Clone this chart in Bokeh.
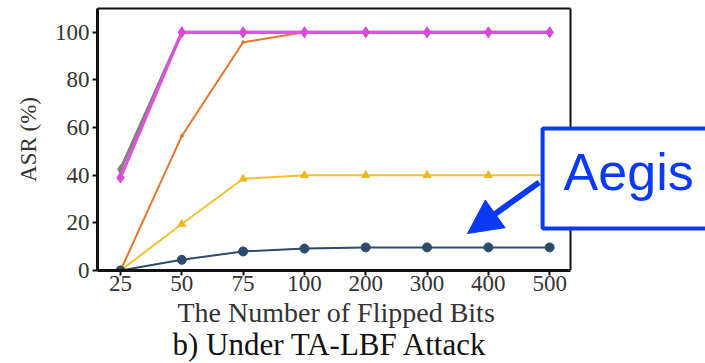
from bokeh.plotting import figure
from bokeh.models import (Range1d, FixedTicker, Label, Arrow, NormalHead, LinearAxis,
                          Span, Title)
from bokeh.embed import file_html
from bokeh.resources import INLINE

# ---- data ----
bits = ["25", "50", "75", "100", "200", "300", "400", "500"]
gray_asr = [42.5, 100, 100, 100, 100, 100, 100, 100]
orange_asr = [0, 56.5, 95.8, 100, 100, 100, 100, 100]
magenta_asr = [39, 100, 100, 100, 100, 100, 100, 100]
yellow_asr = [0, 19.5, 38.5, 40, 40, 40, 40, 40]
blue_asr = [0, 4.5, 8.0, 9.2, 9.7, 9.7, 9.7, 9.7]
yticks = [0, 20, 40, 60, 80, 100]

xs = list(range(len(bits)))

SERIF = "Liberation Serif"
BLUE = "#0a3af5"
INK = "#111111"

# visible axes box spans x in [X0, X1]; the frame extends to the canvas edge so the
# call-out box on the right can be drawn
X0, X1 = -0.375, 7.34
FRAME_L, BOX_R, CANVAS_W = 97, 570, 705
x_end = X0 + (X1 - X0) * (CANVAS_W - FRAME_L) / (BOX_R - FRAME_L)

p = figure(width=705, height=363, output_backend="svg", toolbar_location=None,
           x_range=Range1d(X0, x_end), y_range=Range1d(0, 110),
           min_border_left=FRAME_L, min_border_right=0, min_border_top=8,
           min_border_bottom=93)

p.background_fill_color = "white"
p.border_fill_color = "white"
p.outline_line_color = None
p.grid.visible = False

# series
p.line(xs, gray_asr, line_color="#7f7f7f", line_width=3)
p.scatter(xs, gray_asr, marker="diamond", size=9, color="#7f7f7f")

p.line(xs, orange_asr, line_color="#e8742c", line_width=2)
p.scatter(xs, orange_asr, marker="circle", size=3, color="#e8742c")

p.line(xs, magenta_asr, line_color="#e050e0", line_width=3)
p.scatter(xs, magenta_asr, marker="diamond", size=11, color="#d94ad9")

p.line(xs, yellow_asr, line_color="#f4c030", line_width=2)
p.scatter(xs, yellow_asr, marker="triangle", size=8, color="#f0b820")

p.line(xs, blue_asr, line_color="#2c4a6c", line_width=2)
p.scatter(xs, blue_asr, marker="circle", size=9, color="#2c4a6c")

# axes
xa = p.xaxis[0]
xa.bounds = (X0, X1)
xa.ticker = FixedTicker(ticks=xs)
xa.major_label_overrides = {i: b for i, b in enumerate(bits)}
xa.minor_tick_line_color = None
xa.major_tick_in = 0
xa.major_tick_out = 5
xa.major_tick_line_width = 2
xa.axis_line_width = 3
xa.axis_line_color = INK
xa.major_tick_line_color = INK
xa.major_label_text_font = SERIF
xa.major_label_text_font_size = "23px"
xa.major_label_text_color = "#333333"
xa.major_label_standoff = 0

ya = p.yaxis[0]
ya.ticker = FixedTicker(ticks=yticks)
ya.minor_tick_line_color = None
ya.major_tick_in = 0
ya.major_tick_out = 5
ya.major_tick_line_width = 2
ya.axis_line_width = 3
ya.axis_line_color = INK
ya.major_tick_line_color = INK
ya.major_label_text_font = SERIF
ya.major_label_text_font_size = "23px"
ya.major_label_text_color = "#333333"
ya.major_label_standoff = 3
ya.axis_label = "ASR (%)"
ya.axis_label_text_font = SERIF
ya.axis_label_text_font_size = "23px"
ya.axis_label_text_font_style = "normal"
ya.axis_label_text_color = "#333333"
ya.axis_label_standoff = 11

# top and right edges of the axes box
top_axis = LinearAxis(bounds=(X0, X1), ticker=FixedTicker(ticks=[]),
                      axis_line_width=2, axis_line_color=INK,
                      major_tick_line_color=None, minor_tick_line_color=None,
                      major_label_text_font_size="0px")
p.add_layout(top_axis, "above")
p.add_layout(Span(location=X1, dimension="height", line_color=INK, line_width=2))

# annotation arrow
arrow_tail = (6.83, 37.0)
arrow_tip = (5.66, 15.5)
p.add_layout(Arrow(end=NormalHead(size=34, fill_color=BLUE, line_color=BLUE, line_width=1),
                   x_start=arrow_tail[0], y_start=arrow_tail[1],
                   x_end=arrow_tip[0], y_end=arrow_tip[1],
                   line_color=BLUE, line_width=6))

# annotation box with text (anchored at its top-left corner)
p.add_layout(Label(x=6.885, y=59.66, anchor="top_left", text="Aegis",
                   text_font="Liberation Sans", text_font_size="52px", text_color=BLUE,
                   background_fill_color="white", border_line_color=BLUE,
                   border_line_width=4,
                   padding=dict(left=21, right=30, top=15, bottom=27)))

# x-axis title (centred under the visible axes box) and caption below
p.add_layout(Title(text="The Number of Flipped Bits", text_font=SERIF,
                   text_font_size="28px", text_font_style="normal", text_color="#333333",
                   align="left", offset=80, standoff=2), "below")
p.add_layout(Title(text="b) Under TA-LBF Attack", text_font=SERIF, text_font_size="31px",
                   text_font_style="normal", text_color=INK, align="left",
                   offset=75, standoff=-7), "below")

open("out.html", "w").write(file_html(p, INLINE))
